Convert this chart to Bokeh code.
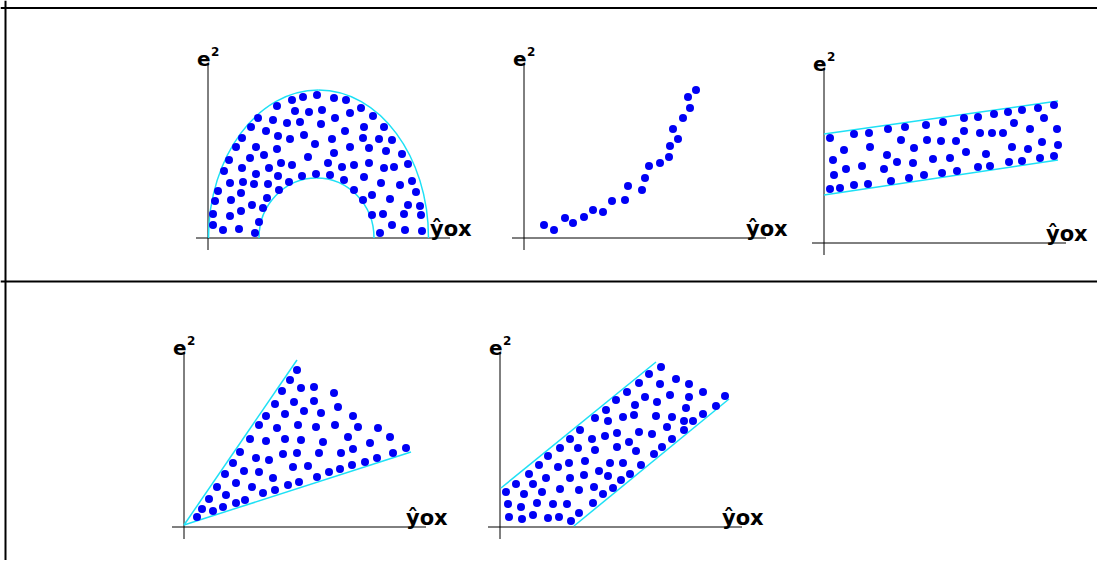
from bokeh.plotting import figure
from bokeh.models import Range1d, Span
from bokeh.core.properties import value
from bokeh.embed import file_html
from bokeh.resources import INLINE

# ---------------- data (each panel in its own units: yhat_ox across, e^2 up) -------------
X_LABEL = "ŷox"
Y_LABEL_BASE = "e"
Y_LABEL_SUP = "2"

# Panel 1: half ring (curvilinear pattern with changing spread)
p1_x = [84, 95, 109, 126, 138, 153,
        69, 87, 101, 114, 127, 142, 165,
        50, 65, 79, 92, 113, 156, 176,
        43, 58, 70, 82, 96, 107, 124, 137, 155, 171, 184,
        34, 28, 48, 69, 56, 100, 126, 142, 161, 178, 194,
        21, 42, 34, 16, 61, 73, 84, 120, 134, 146, 161, 176, 186, 200,
        48, 70, 22, 35, 46, 60, 81, 94, 108, 122, 136, 156, 173, 192, 204,
        10, 33, 59, 71, 146, 155, 164, 182, 208,
        7, 23, 44, 55, 33, 200, 212,
        5, 22, 51, 164, 175, 196, 213,
        5, 15, 31, 47, 172, 184, 197, 214]
p1_y = [138, 141, 143, 140, 138, 130,
        132, 127, 126, 128, 120, 125, 122,
        120, 118, 115, 116, 114, 111, 111,
        111, 107, 102, 99, 103, 94, 99, 107, 100, 99, 98,
        100, 91, 91, 89, 83, 81, 85, 91, 90, 87, 84,
        78, 80, 70, 67, 70, 75, 73, 75, 71, 73, 75, 70, 71, 74,
        64, 62, 55, 56, 54, 54, 56, 62, 64, 63, 58, 61, 55, 53, 57,
        47, 45, 40, 48, 48, 38, 43, 39, 46,
        37, 38, 33, 30, 27, 33, 32,
        24, 22, 16, 23, 24, 24, 23,
        13, 8, 9, 5, 5, 13, 8, 7]
p1_outer = dict(cx=110.5, a=110, b=148)
p1_inner = dict(cx=108.5, a=57.5, b=60)

# Panel 2: curved trend
p2_x = [20, 30, 41, 49, 60, 69, 79, 88, 101, 104, 118, 121, 125, 136, 145, 146, 149, 154, 159, 166, 164, 172]
p2_y = [13, 8, 20, 15, 21, 28, 26, 37, 38, 52, 48, 60, 72, 75, 81, 92, 109, 99, 120, 130, 141, 148]

# Panel 3: constant-width band with a slope
p3_x = [6, 30, 45, 64, 81, 102, 119, 140, 154, 170, 184, 198, 214, 230,
        20, 46, 77, 90, 103, 117, 132, 140, 156, 168, 179, 190, 206, 220, 233,
        9, 22, 38, 10, 60, 63, 73, 89, 109, 126, 142, 162, 154, 166, 188, 204, 218, 234,
        6, 16, 30, 44, 67, 85, 100, 118, 133, 185, 198, 216, 230]
p3_y = [105, 109, 110, 114, 116, 118, 121, 125, 126, 129, 131, 133, 135, 138,
        93, 96, 103, 95, 103, 102, 102, 112, 110, 110, 110, 120, 114, 125, 114,
        83, 74, 77, 68, 74, 88, 81, 80, 84, 85, 91, 89, 76, 77, 96, 94, 101, 98,
        54, 55, 58, 59, 62, 65, 68, 70, 72, 81, 82, 85, 87]
p3_upper_x = [0, 234]
p3_upper_y = [109, 142]
p3_lower_x = [0, 234]
p3_lower_y = [48, 83]

# Panel 4: fan (spread grows with yhat)
p4_x = [13, 18, 25, 33, 41, 49, 56, 66, 75, 82, 91, 98, 106, 113,
        29, 39, 42, 52, 52, 61, 60, 68, 72, 75, 79, 82, 85, 89, 91, 93, 99, 101, 101, 104,
        110, 109, 113, 114, 115, 117, 117, 120, 124, 130, 130, 132, 133, 135, 137, 139, 145,
        150, 151, 154, 156, 157, 164, 168, 169, 169, 174, 181, 186, 193, 194, 206, 209, 222]
p4_y = [10, 18, 28, 40, 53, 64, 75, 88, 102, 111, 123, 136, 147, 157,
        16, 20, 32, 24, 44, 27, 56, 40, 69, 55, 34, 86, 67, 49, 37, 99, 73, 88, 113, 42,
        125, 60, 74, 102, 45, 139, 87, 116, 61, 140, 126, 100, 50, 74, 114, 85, 55,
        134, 102, 120, 58, 74, 90, 62, 111, 78, 100, 65, 84, 69, 99, 90, 74, 79]
p4_upper_x = [0, 113]
p4_upper_y = [2, 167]
p4_lower_x = [0, 227]
p4_lower_y = [2, 75]

# Panel 5: sloping band
p5_x = [9, 22, 33, 48, 59, 71, 79,
        8, 21, 37, 53, 67, 93,
        6, 24, 42, 60, 79, 94, 103, 113,
        16, 33, 46, 70, 84, 99, 108, 121, 130,
        29, 39, 58, 69, 85, 110, 123, 141,
        48, 60, 78, 95, 117, 136, 154, 162,
        70, 80, 92, 105, 117, 129, 139, 152, 167, 172, 184,
        95, 108, 123, 134, 156, 172, 184, 193, 203,
        106, 116, 135, 145, 157, 170, 186, 189, 203, 216, 225,
        127, 139, 149, 160, 161, 176, 189]
p5_y = [10, 8, 12, 9, 10, 6, 14,
        23, 20, 24, 23, 23, 24,
        35, 33, 35, 38, 37, 40, 33, 39,
        43, 43, 49, 49, 52, 56, 51, 47, 53,
        53, 62, 60, 64, 66, 64, 64, 62,
        71, 79, 79, 77, 80, 76, 73, 80,
        88, 97, 88, 91, 94, 85, 95, 93, 100, 88, 97,
        109, 106, 110, 112, 111, 110, 106, 106, 113,
        117, 127, 122, 130, 125, 132, 119, 130, 135, 121, 131,
        135, 144, 153, 143, 160, 148, 143]
p5_upper_x = [1, 156]
p5_upper_y = [39, 165]
p5_lower_x = [74, 229]
p5_lower_y = [1, 128]

AXIS_X = [-12, 242]
AXIS_Y = [-12, 175]

# ---------------- layout ----------------
W, H = 1097, 560
DOT = "#0000F5"
CURVE = "#1EE0F5"
FONT = "DejaVu Sans"

p = figure(width=W, height=H, output_backend="svg", toolbar_location=None,
           x_axis_type=None, y_axis_type=None, min_border=0,
           x_range=Range1d(0, W), y_range=Range1d(H, 0))
p.grid.visible = False
p.outline_line_color = None
p.background_fill_color = "white"
p.border_fill_color = "white"

# panel origins on the canvas (layout only)
origins = {"p1": (207.5, 237.5), "p2": (523.5, 237.5), "p3": (823.5, 242.5),
           "p4": (183.5, 526.5), "p5": (499.5, 526.5)}
for name, (ox, oy) in origins.items():
    p.extra_x_ranges[name] = Range1d(-ox, W - ox)
    p.extra_y_ranges[name] = Range1d(oy - H, oy)


def axes(name):
    kw = dict(x_range_name=name, y_range_name=name)
    p.line(x=[0, 0], y=AXIS_Y, line_color="black", line_width=1, **kw)
    p.line(x=AXIS_X, y=[0, 0], line_color="black", line_width=1, **kw)
    p.text(x=[2.5], y=[AXIS_Y[1] + 4], text=[Y_LABEL_BASE], text_font=value(FONT),
           text_font_style="bold", text_font_size="20px", text_align="right",
           text_baseline="alphabetic", text_color="black", **kw)
    p.text(x=[3], y=[AXIS_Y[1] + 12], text=[Y_LABEL_SUP], text_font=value(FONT),
           text_font_style="bold", text_font_size="12px", text_align="left",
           text_baseline="alphabetic", text_color="black", **kw)
    p.text(x=[AXIS_X[1] - 20], y=[9], text=[X_LABEL], text_font=value(FONT),
           text_font_style="bold", text_font_size="21px", text_align="left",
           text_baseline="alphabetic", text_color="black", **kw)


def dots(name, xs, ys):
    p.scatter(x=xs, y=ys, size=8, marker="circle", fill_color=DOT, line_color=None,
              x_range_name=name, y_range_name=name)


def half_ellipse(name, e):
    k = 0.5523
    cx, a, b = e["cx"], e["a"], e["b"]
    p.bezier(x0=[cx - a, cx], y0=[0, b], x1=[cx, cx + a], y1=[b, 0],
             cx0=[cx - a, cx + k * a], cy0=[k * b, b],
             cx1=[cx - k * a, cx + a], cy1=[b, k * b],
             line_color=CURVE, line_width=1.5, x_range_name=name, y_range_name=name)


def seg(name, xs, ys):
    p.line(x=xs, y=ys, line_color=CURVE, line_width=1.5, x_range_name=name, y_range_name=name)


# panel 1
axes("p1")
half_ellipse("p1", p1_outer)
half_ellipse("p1", p1_inner)
dots("p1", p1_x, p1_y)
# panel 2
axes("p2")
dots("p2", p2_x, p2_y)
# panel 3
axes("p3")
seg("p3", p3_upper_x, p3_upper_y)
seg("p3", p3_lower_x, p3_lower_y)
dots("p3", p3_x, p3_y)
# panel 4
axes("p4")
seg("p4", p4_upper_x, p4_upper_y)
seg("p4", p4_lower_x, p4_lower_y)
dots("p4", p4_x, p4_y)
# panel 5
axes("p5")
seg("p5", p5_upper_x, p5_upper_y)
seg("p5", p5_lower_x, p5_lower_y)
dots("p5", p5_x, p5_y)

# frame of the figure
p.add_layout(Span(location=7.5, dimension="width", line_color="black", line_width=2))
p.add_layout(Span(location=281, dimension="width", line_color="black", line_width=2))
p.add_layout(Span(location=5, dimension="height", line_color="black", line_width=2))

open("out.html", "w").write(file_html(p, INLINE))
